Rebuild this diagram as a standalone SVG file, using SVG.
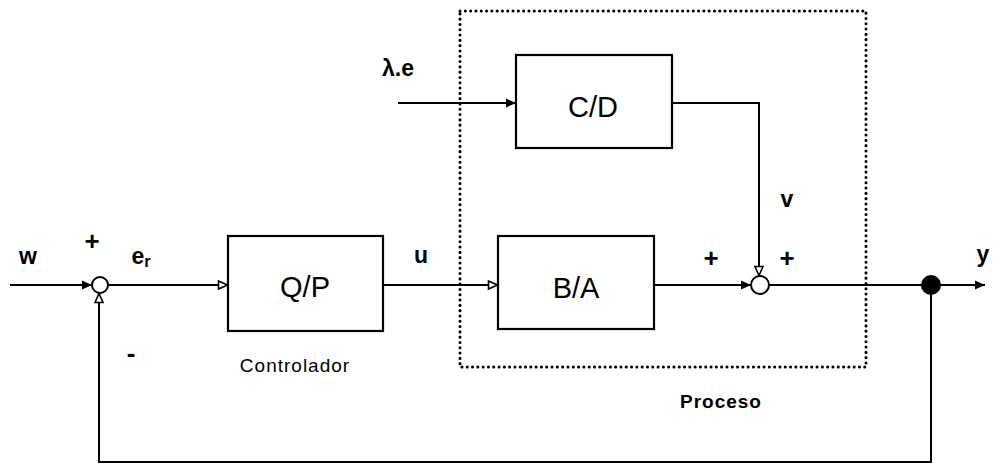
<svg xmlns="http://www.w3.org/2000/svg" width="1000" height="464" viewBox="0 0 1000 464">
<defs>
<marker id="af" markerUnits="userSpaceOnUse" markerWidth="12" markerHeight="12" refX="11" refY="6" orient="auto" viewBox="0 0 12 12">
<path d="M1,1.5 L11,6 L1,10.5 z" fill="#000"/>
</marker>
<marker id="ao" markerUnits="userSpaceOnUse" markerWidth="12" markerHeight="12" refX="11" refY="6" orient="auto" viewBox="0 0 12 12">
<path d="M1.5,2 L10.5,6 L1.5,10 z" fill="#fff" stroke="#000" stroke-width="1.6"/>
</marker>
<style>
.ln{fill:none;stroke:#000;stroke-width:2}
.box{fill:#fff;stroke:#000;stroke-width:2.2}
.big{font-family:"Liberation Sans",Arial,sans-serif;font-size:29px;text-anchor:middle}
.lab{font-family:"Liberation Sans",Arial,sans-serif;font-weight:bold;font-size:23px;text-anchor:middle}
.sgn{font-family:"Liberation Sans",Arial,sans-serif;font-weight:bold;font-size:26px;text-anchor:middle}
.cap{font-family:"Liberation Sans",Arial,sans-serif;font-size:19px;text-anchor:middle;letter-spacing:1px}
.jn{fill:#fff;stroke:#000;stroke-width:2}
</style>
</defs>
<rect width="1000" height="464" fill="#fff"/>
<g id="proceso">
<rect x="460" y="11" width="406" height="356" fill="none" stroke="#000" stroke-width="3" stroke-dasharray="0.1 5.2" stroke-linecap="round"/>
<text class="cap" x="721" y="408" font-weight="bold">Proceso</text>
</g>
<g id="connectors">
<line class="ln" x1="10" y1="285" x2="92" y2="285" marker-end="url(#af)"/>
<line class="ln" x1="108" y1="285" x2="228" y2="285" marker-end="url(#ao)"/>
<line class="ln" x1="383" y1="285" x2="498" y2="285" marker-end="url(#ao)"/>
<line class="ln" x1="398" y1="103" x2="516" y2="103" marker-end="url(#af)"/>
<path class="ln" d="M672,103 H759 V276" marker-end="url(#ao)"/>
<line class="ln" x1="654" y1="285" x2="751" y2="285" marker-end="url(#af)"/>
<line class="ln" x1="769" y1="285" x2="922" y2="285"/>
<line class="ln" x1="940" y1="285" x2="985" y2="285" marker-end="url(#af)"/>
<path class="ln" d="M931,292 V462 H99 V293" marker-end="url(#ao)"/>
</g>
<g id="sum1">
<circle class="jn" cx="100" cy="285" r="8"/>
<text class="sgn" x="92" y="250">+</text>
<text class="sgn" x="131" y="362">-</text>
</g>
<g id="sum2">
<circle class="jn" cx="760" cy="285" r="9"/>
<text class="sgn" x="711" y="267">+</text>
<text class="sgn" x="787" y="267">+</text>
</g>
<g id="branch">
<circle cx="931" cy="285" r="10" fill="#000"/>
</g>
<g id="QP">
<rect class="box" x="228" y="236" width="155" height="95"/>
<text class="big" x="305" y="297">Q/P</text>
<text class="cap" x="295" y="372">Controlador</text>
</g>
<g id="BA">
<rect class="box" x="498" y="236" width="156" height="93"/>
<text class="big" x="576" y="298">B/A</text>
</g>
<g id="CD">
<rect class="box" x="516" y="55" width="156" height="93"/>
<text class="big" x="593" y="117">C/D</text>
</g>
<g id="labels">
<text class="lab" x="28" y="264" font-size="25px">w</text>
<text class="lab" x="141" y="264">e<tspan font-size="16px" dy="3">r</tspan></text>
<text class="lab" x="421" y="263">u</text>
<text class="lab" x="398" y="76">λ.e</text>
<text class="lab" x="787" y="207">v</text>
<text class="lab" x="983" y="262" font-size="25px">y</text>
</g>
</svg>
